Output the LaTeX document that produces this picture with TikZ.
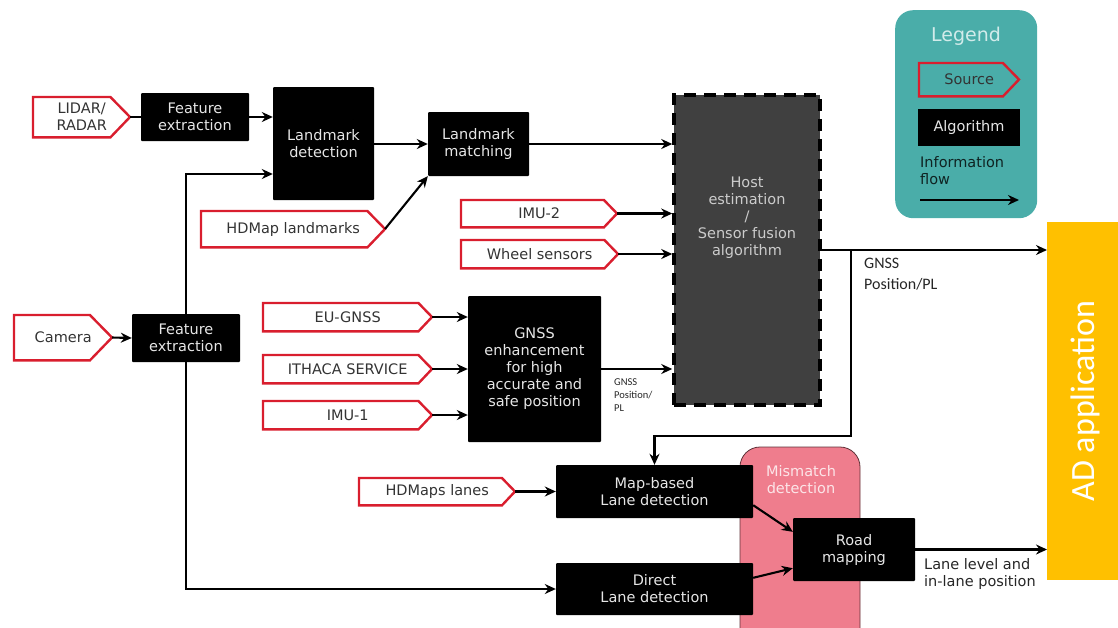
\documentclass[tikz,border=0pt]{standalone}
\usepackage{fontspec}
\setmainfont{DejaVu Sans}
\newfontfamily\calfont{Carlito}
\usetikzlibrary{arrows.meta,calc}
\definecolor{srcred}{HTML}{D91E2E}
\definecolor{hostgray}{HTML}{404040}
\definecolor{legteal}{HTML}{4AADA9}
\definecolor{mispink}{HTML}{EF7D8D}
\definecolor{adyellow}{HTML}{FFC000}
\definecolor{algtext}{HTML}{E6E6E6}
\definecolor{srctext}{HTML}{333333}
\newcommand\mainfs{\fontsize{14.5}{17}\selectfont}
\newcommand\srcbox[6]{%
  \node[src, minimum width={#4-#2}, minimum height={#5-#3}, anchor=north west] (#1) at (#2,#3) {#6};
  \coordinate (#1-tip) at (#4,{(#3+#5)/2});
  \draw[srcline] (#1.north west) -- ($(#1.north east)+({-(#5-#3)*0.5},0)$) -- (#1-tip) -- ($(#1.south east)+({-(#5-#3)*0.5},0)$) -- (#1.south west) -- cycle;
}
\begin{document}
\begin{tikzpicture}[x=1pt,y=-1pt,
  algo/.style={fill=black, text=algtext, rounded corners=1pt, inner sep=0pt, align=center, font=\mainfs},
  src/.style={inner sep=0pt, align=center, font=\mainfs, text=srctext},
  srcline/.style={draw=srcred, line width=2.4pt, line join=miter},
  flow/.style={line width=2.1pt, -{Stealth[length=11pt,width=10pt]}},
  plain/.style={line width=2.1pt},
  lbl/.style={inner sep=0pt, align=left, text=black!85}
]
\useasboundingbox (0,0) rectangle (1118,627);

% background shapes
\node[fill=legteal, rounded corners=18pt, minimum width=142pt, minimum height=208pt, anchor=north west, inner sep=0pt] (legend) at (895,10) {};
\node[fill=adyellow, minimum width=71pt, minimum height=358pt, anchor=north west, inner sep=0pt] (ad) at (1047,222) {};
\node[text=white, rotate=90, font=\calfont\fontsize{34}{40}\selectfont, inner sep=0pt] (adtext) at (1085,401) {AD application};
\draw[fill=mispink, draw=black!60!mispink, line width=0.8pt, rounded corners=20pt] (740,447) rectangle (860,650);
\node[text=mispink!20!white, font=\mainfs, align=center, inner sep=0pt] (mistext) at (801,480) {Mismatch\\detection};

% algorithm boxes
\node[algo, minimum width=108pt, minimum height=48pt] (fe1) at (195,117) {Feature\\extraction};
\node[algo, minimum width=101pt, minimum height=113pt] (lmdet) at (323.5,143.5) {Landmark\\detection};
\node[algo, minimum width=101pt, minimum height=64pt] (lmmatch) at (478.5,144) {Landmark\\matching};
\node[fill=hostgray, draw=black, line width=3.5pt, dash pattern=on 12pt off 8pt, minimum width=146pt, minimum height=310pt, inner sep=0pt] (host) at (747,250) {};
\node[text=black!20, font=\mainfs, align=center, inner sep=0pt] (hosttext) at (747,218) {Host\\estimation\\/\\Sensor fusion\\algorithm};
\node[algo, minimum width=108pt, minimum height=48pt] (fe2) at (186,338) {Feature\\extraction};
\node[algo, minimum width=133pt, minimum height=146pt] (gnss) at (534.5,369) {GNSS\\enhancement\\for high\\accurate and\\safe position};
\node[algo, minimum width=197pt, minimum height=53pt] (mapb) at (654.5,491.5) {Map-based\\Lane detection};
\node[algo, minimum width=197pt, minimum height=52pt] (direct) at (654.5,589) {Direct\\Lane detection};
\node[algo, minimum width=122pt, minimum height=63pt] (road) at (854,549.5) {Road\\mapping};

% sources
\srcbox{lidar}{33}{97}{130}{137}{LIDAR/\\RADAR}
\srcbox{hdmap}{201}{211}{385}{247}{HDMap landmarks}
\srcbox{imu2}{461}{200}{617}{227}{IMU-2}
\srcbox{wheel}{461}{240}{618}{268}{Wheel sensors}
\srcbox{camera}{14}{315}{112}{360}{Camera}
\srcbox{eugnss}{263}{303}{432}{331}{EU-GNSS}
\srcbox{ithaca}{263}{355}{432}{383}{ITHACA SERVICE}
\srcbox{imu1}{263}{401}{432}{429}{IMU-1}
\srcbox{hdlanes}{359}{478}{515}{505}{HDMaps lanes}

% connectors
\draw[plain] (lidar-tip) -- (fe1.west |- lidar-tip);
\draw[flow] (fe1.east) -- (fe1.east -| lmdet.west);
\draw[flow] (lmdet.east |- lmmatch.west) -- (lmmatch.west);
\draw[flow] (hdmap-tip) -- (lmmatch.south west);
\draw[flow] (lmmatch.east) -- (lmmatch.east -| host.west);
\draw[flow] (imu2-tip) -- (imu2-tip -| host.west);
\draw[flow] (wheel-tip) -- (wheel-tip -| host.west);
\draw[flow] (camera-tip) -- (fe2.west);
\draw[flow] (fe2.north) |- ($(lmdet.west)+(0,30.5)$);
\draw[flow] (fe2.south) |- (direct.west);
\draw[flow] (eugnss-tip) -- (eugnss-tip -| gnss.west);
\draw[flow] (ithaca-tip) -- (ithaca-tip -| gnss.west);
\draw[flow] (imu1-tip) -- (imu1-tip -| gnss.west);
\draw[flow] (gnss.east) -- (gnss.east -| host.west);
\draw[flow] (host.east) -- (host.east -| ad.west);
\coordinate (branch) at ($(host.east)+(29,0)$);
\draw[flow] (branch) |- ($(mapb.north)+(0,-29)$) -- (mapb.north);
\draw[flow] (hdlanes-tip) -- (hdlanes-tip -| mapb.west);
\draw[flow] ($(mapb.south east)+(0,-13)$) -- ($(road.north west)+(0,14)$);
\draw[flow] ($(direct.north east)+(0,15)$) -- ($(road.south west)+(0,-13)$);
\draw[flow] (road.east) -- (road.east -| ad.west);

% labels
\node[lbl, anchor=north west, font=\calfont\fontsize{10.5}{13}\selectfont] (gnsslbl1) at (614,378) {GNSS\\Position/\\PL};
\node[lbl, anchor=north west, font=\calfont\fontsize{16}{21}\selectfont] (gnsslbl2) at (864,258) {GNSS\\Position/PL};
\node[lbl, anchor=north west, font=\mainfs] (lanelbl) at (924,558) {Lane level and\\in-lane position};

% legend
\node[text=legteal!25!white, font=\fontsize{19}{22}\selectfont, inner sep=0pt] (legtitle) at (966,36) {Legend};
\srcbox{legsrc}{919}{63}{1019}{96}{Source}
\node[algo, minimum width=102pt, minimum height=37pt, rounded corners=0pt] (legalgo) at (969,127.5) {Algorithm};
\node[lbl, anchor=north west, font=\mainfs, text=black!80!legteal] (leginfo) at (920,156) {Information\\flow};
\coordinate (legA) at (920,200);
\coordinate (legB) at (1019,200);
\draw[flow, line width=1.8pt] (legA) -- (legB);
\end{tikzpicture}
\end{document}
